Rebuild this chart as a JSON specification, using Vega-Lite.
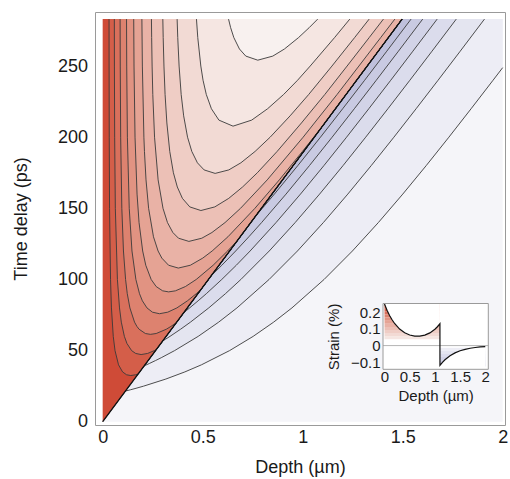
{
  "$schema": "https://vega.github.io/schema/vega-lite/v6.json",
  "width": 410,
  "height": 413,
  "autosize": {"type": "none"},
  "padding": {"left": 95, "top": 12, "right": 5, "bottom": 54},
  "config": {
    "font": "Liberation Sans",
    "view": {"stroke": "#9a9a9a", "strokeWidth": 1},
    "axis": {"grid": false, "domain": false, "ticks": false, "tickSize": 0, "labelColor": "#1a1a1a", "titleColor": "#1a1a1a", "titleFontWeight": "normal", "labelFlush": false, "labelOverlap": false, "zindex": 1}
  },
  "datasets": {
    "c": [
      {"g":"p00","d":0,"t":0},{"g":"p00","d":2,"t":0},
      {"g":"p01","d":0.114,"t":21.56},{"g":"p01","d":0.1401,"t":22.5},{"g":"p01","d":0.1666,"t":23.5},{"g":"p01","d":0.2042,"t":25},{"g":"p01","d":0.3157,"t":30},{"g":"p01","d":0.4107,"t":35},{"g":"p01","d":0.4937,"t":40},{"g":"p01","d":0.6345,"t":50},{"g":"p01","d":0.7524,"t":60},{"g":"p01","d":0.8547,"t":70},{"g":"p01","d":0.9462,"t":80},{"g":"p01","d":1.1069,"t":100},{"g":"p01","d":1.2486,"t":120},{"g":"p01","d":1.3783,"t":140},{"g":"p01","d":1.5004,"t":160},{"g":"p01","d":1.6174,"t":180},{"g":"p01","d":1.7309,"t":200},{"g":"p01","d":1.842,"t":220},{"g":"p01","d":1.9516,"t":240},{"g":"p01","d":2.0,"t":248.9},
      {"g":"p02","d":0.208,"t":39.31},{"g":"p02","d":0.2343,"t":41},{"g":"p02","d":0.2641,"t":43},{"g":"p02","d":0.2928,"t":45},{"g":"p02","d":0.3596,"t":50},{"g":"p02","d":0.4775,"t":60},{"g":"p02","d":0.5798,"t":70},{"g":"p02","d":0.6713,"t":80},{"g":"p02","d":0.832,"t":100},{"g":"p02","d":0.9737,"t":120},{"g":"p02","d":1.1034,"t":140},{"g":"p02","d":1.2255,"t":160},{"g":"p02","d":1.3425,"t":180},{"g":"p02","d":1.456,"t":200},{"g":"p02","d":1.5671,"t":220},{"g":"p02","d":1.6767,"t":240},{"g":"p02","d":1.7852,"t":260},{"g":"p02","d":1.9089,"t":283},
      {"g":"p03","d":0.3003,"t":56.76},{"g":"p03","d":0.3143,"t":58},{"g":"p03","d":0.3365,"t":60},{"g":"p03","d":0.3892,"t":65},{"g":"p03","d":0.4388,"t":70},{"g":"p03","d":0.5303,"t":80},{"g":"p03","d":0.6137,"t":90},{"g":"p03","d":0.691,"t":100},{"g":"p03","d":0.8327,"t":120},{"g":"p03","d":0.9624,"t":140},{"g":"p03","d":1.0845,"t":160},{"g":"p03","d":1.2015,"t":180},{"g":"p03","d":1.315,"t":200},{"g":"p03","d":1.4261,"t":220},{"g":"p03","d":1.5357,"t":240},{"g":"p03","d":1.6441,"t":260},{"g":"p03","d":1.7679,"t":283},
      {"g":"p04","d":0.406,"t":76.75},{"g":"p04","d":0.4171,"t":78},{"g":"p04","d":0.4347,"t":80},{"g":"p04","d":0.4772,"t":85},{"g":"p04","d":0.5181,"t":90},{"g":"p04","d":0.5954,"t":100},{"g":"p04","d":0.6681,"t":110},{"g":"p04","d":0.7371,"t":120},{"g":"p04","d":0.8668,"t":140},{"g":"p04","d":0.9889,"t":160},{"g":"p04","d":1.1059,"t":180},{"g":"p04","d":1.2194,"t":200},{"g":"p04","d":1.3305,"t":220},{"g":"p04","d":1.4401,"t":240},{"g":"p04","d":1.5485,"t":260},{"g":"p04","d":1.6723,"t":283},
      {"g":"p05","d":0.5436,"t":102.76},{"g":"p05","d":0.56,"t":105},{"g":"p05","d":0.5958,"t":110},{"g":"p05","d":0.6648,"t":120},{"g":"p05","d":0.7308,"t":130},{"g":"p05","d":0.7945,"t":140},{"g":"p05","d":0.9166,"t":160},{"g":"p05","d":1.0336,"t":180},{"g":"p05","d":1.1471,"t":200},{"g":"p05","d":1.2582,"t":220},{"g":"p05","d":1.3678,"t":240},{"g":"p05","d":1.4762,"t":260},{"g":"p05","d":1.6,"t":283},
      {"g":"p06","d":0.7652,"t":144.64},{"g":"p06","d":0.7797,"t":147},{"g":"p06","d":0.7981,"t":150},{"g":"p06","d":0.8584,"t":160},{"g":"p06","d":0.9754,"t":180},{"g":"p06","d":1.0889,"t":200},{"g":"p06","d":1.2,"t":220},{"g":"p06","d":1.3096,"t":240},{"g":"p06","d":1.418,"t":260},{"g":"p06","d":1.5418,"t":283},
      {"g":"p07","d":0,"t":0},{"g":"p07","d":1.497,"t":283},
      {"g":"p08","d":0.0318,"t":283},{"g":"p08","d":0.032,"t":250},{"g":"p08","d":0.0327,"t":200},{"g":"p08","d":0.0343,"t":150},{"g":"p08","d":0.0392,"t":100},{"g":"p08","d":0.0438,"t":80},{"g":"p08","d":0.0528,"t":60},{"g":"p08","d":0.0616,"t":50},{"g":"p08","d":0.0791,"t":40},{"g":"p08","d":0.0994,"t":35},{"g":"p08","d":0.1194,"t":33},{"g":"p08","d":0.1401,"t":32.47},{"g":"p08","d":0.1648,"t":33},{"g":"p08","d":0.1778,"t":33.62},{"g":"p08","d":1.497,"t":283},
      {"g":"p09","d":0.0582,"t":283},{"g":"p09","d":0.0586,"t":250},{"g":"p09","d":0.0599,"t":200},{"g":"p09","d":0.0632,"t":150},{"g":"p09","d":0.0736,"t":100},{"g":"p09","d":0.084,"t":80},{"g":"p09","d":0.0931,"t":70},{"g":"p09","d":0.1083,"t":60},{"g":"p09","d":0.1212,"t":55},{"g":"p09","d":0.1445,"t":50},{"g":"p09","d":0.1648,"t":48},{"g":"p09","d":0.1921,"t":47.22},{"g":"p09","d":0.2246,"t":48},{"g":"p09","d":0.2583,"t":50},{"g":"p09","d":0.2687,"t":50.79},{"g":"p09","d":1.497,"t":283},
      {"g":"p10","d":0.0871,"t":283},{"g":"p10","d":0.0878,"t":250},{"g":"p10","d":0.0899,"t":200},{"g":"p10","d":0.0957,"t":150},{"g":"p10","d":0.1038,"t":120},{"g":"p10","d":0.1144,"t":100},{"g":"p10","d":0.1229,"t":90},{"g":"p10","d":0.136,"t":80},{"g":"p10","d":0.1592,"t":70},{"g":"p10","d":0.1711,"t":67},{"g":"p10","d":0.1821,"t":65},{"g":"p10","d":0.2134,"t":62},{"g":"p10","d":0.2386,"t":61.42},{"g":"p10","d":0.2675,"t":62},{"g":"p10","d":0.3177,"t":65},{"g":"p10","d":0.3413,"t":67},{"g":"p10","d":0.3684,"t":69.64},{"g":"p10","d":1.497,"t":283},
      {"g":"p11","d":0.1192,"t":283},{"g":"p11","d":0.1201,"t":250},{"g":"p11","d":0.1235,"t":200},{"g":"p11","d":0.1327,"t":150},{"g":"p11","d":0.1464,"t":120},{"g":"p11","d":0.1659,"t":100},{"g":"p11","d":0.184,"t":90},{"g":"p11","d":0.1983,"t":85},{"g":"p11","d":0.2213,"t":80},{"g":"p11","d":0.2488,"t":77},{"g":"p11","d":0.2837,"t":75.92},{"g":"p11","d":0.3252,"t":77},{"g":"p11","d":0.3708,"t":80},{"g":"p11","d":0.4237,"t":85},{"g":"p11","d":0.4678,"t":90},{"g":"p11","d":0.4923,"t":93.07},{"g":"p11","d":1.497,"t":283},
      {"g":"p12","d":0.1551,"t":283},{"g":"p12","d":0.1566,"t":250},{"g":"p12","d":0.1617,"t":200},{"g":"p12","d":0.1718,"t":160},{"g":"p12","d":0.1818,"t":140},{"g":"p12","d":0.1999,"t":120},{"g":"p12","d":0.2154,"t":110},{"g":"p12","d":0.2423,"t":100},{"g":"p12","d":0.2675,"t":95},{"g":"p12","d":0.2998,"t":92},{"g":"p12","d":0.3296,"t":91.27},{"g":"p12","d":0.3636,"t":92},{"g":"p12","d":0.4134,"t":95},{"g":"p12","d":0.4677,"t":100},{"g":"p12","d":0.5522,"t":110},{"g":"p12","d":0.6243,"t":120},{"g":"p12","d":0.6579,"t":125},{"g":"p12","d":0.6745,"t":127.5},{"g":"p12","d":1.497,"t":283},
      {"g":"p13","d":0.196,"t":283},{"g":"p13","d":0.1983,"t":250},{"g":"p13","d":0.206,"t":200},{"g":"p13","d":0.2088,"t":190},{"g":"p13","d":0.2166,"t":170},{"g":"p13","d":0.2296,"t":150},{"g":"p13","d":0.2539,"t":130},{"g":"p13","d":0.2769,"t":120},{"g":"p13","d":0.2957,"t":115},{"g":"p13","d":0.3294,"t":110},{"g":"p13","d":0.3781,"t":108.01},{"g":"p13","d":0.4382,"t":110},{"g":"p13","d":0.5002,"t":115},{"g":"p13","d":0.5472,"t":120},{"g":"p13","d":0.6262,"t":130},{"g":"p13","d":0.761,"t":150},{"g":"p13","d":0.8831,"t":170},{"g":"p13","d":0.9987,"t":190},{"g":"p13","d":1.0555,"t":200},{"g":"p13","d":1.103,"t":208.5},{"g":"p13","d":1.497,"t":283},
      {"g":"p14","d":0.2437,"t":283},{"g":"p14","d":0.2448,"t":270},{"g":"p14","d":0.2471,"t":250},{"g":"p14","d":0.2505,"t":230},{"g":"p14","d":0.2593,"t":200},{"g":"p14","d":0.2771,"t":170},{"g":"p14","d":0.3015,"t":150},{"g":"p14","d":0.3239,"t":140},{"g":"p14","d":0.3507,"t":133},{"g":"p14","d":0.379,"t":129},{"g":"p14","d":0.431,"t":126.76},{"g":"p14","d":0.4955,"t":129},{"g":"p14","d":0.5462,"t":133},{"g":"p14","d":0.6117,"t":140},{"g":"p14","d":0.6891,"t":150},{"g":"p14","d":0.8226,"t":170},{"g":"p14","d":1.0022,"t":200},{"g":"p14","d":1.1718,"t":230},{"g":"p14","d":1.281,"t":250},{"g":"p14","d":1.39,"t":270},{"g":"p14","d":1.4607,"t":283},
      {"g":"p15","d":0.3007,"t":283},{"g":"p15","d":0.3025,"t":270},{"g":"p15","d":0.3063,"t":250},{"g":"p15","d":0.3119,"t":230},{"g":"p15","d":0.3208,"t":210},{"g":"p15","d":0.3353,"t":190},{"g":"p15","d":0.3535,"t":175},{"g":"p15","d":0.3731,"t":165},{"g":"p15","d":0.3986,"t":157},{"g":"p15","d":0.4355,"t":151},{"g":"p15","d":0.491,"t":148.46},{"g":"p15","d":0.5605,"t":151},{"g":"p15","d":0.6302,"t":157},{"g":"p15","d":0.6993,"t":165},{"g":"p15","d":0.7732,"t":175},{"g":"p15","d":0.8722,"t":190},{"g":"p15","d":0.9937,"t":210},{"g":"p15","d":1.1105,"t":230},{"g":"p15","d":1.2219,"t":250},{"g":"p15","d":1.3324,"t":270},{"g":"p15","d":1.4036,"t":283},
      {"g":"p16","d":0.3722,"t":283},{"g":"p16","d":0.3753,"t":270},{"g":"p16","d":0.382,"t":250},{"g":"p16","d":0.3924,"t":230},{"g":"p16","d":0.4048,"t":215},{"g":"p16","d":0.4243,"t":200},{"g":"p16","d":0.4455,"t":190},{"g":"p16","d":0.4736,"t":182},{"g":"p16","d":0.507,"t":177},{"g":"p16","d":0.5622,"t":174.55},{"g":"p16","d":0.6305,"t":177},{"g":"p16","d":0.691,"t":182},{"g":"p16","d":0.762,"t":190},{"g":"p16","d":0.8372,"t":200},{"g":"p16","d":0.937,"t":215},{"g":"p16","d":1.0299,"t":230},{"g":"p16","d":1.1462,"t":250},{"g":"p16","d":1.2595,"t":270},{"g":"p16","d":1.3322,"t":283},
      {"g":"p17","d":0.4689,"t":283},{"g":"p17","d":0.4754,"t":270},{"g":"p17","d":0.4906,"t":250},{"g":"p17","d":0.5018,"t":240},{"g":"p17","d":0.518,"t":230},{"g":"p17","d":0.5436,"t":220},{"g":"p17","d":0.581,"t":212},{"g":"p17","d":0.6516,"t":207.77},{"g":"p17","d":0.7448,"t":212},{"g":"p17","d":0.8245,"t":220},{"g":"p17","d":0.9044,"t":230},{"g":"p17","d":0.9741,"t":240},{"g":"p17","d":1.0375,"t":250},{"g":"p17","d":1.1593,"t":270},{"g":"p17","d":1.2354,"t":283},
      {"g":"p18","d":0.6293,"t":283},{"g":"p18","d":0.6397,"t":277},{"g":"p18","d":0.6557,"t":270},{"g":"p18","d":0.6837,"t":262},{"g":"p18","d":0.7155,"t":257},{"g":"p18","d":0.7754,"t":254.13},{"g":"p18","d":0.8504,"t":257},{"g":"p18","d":0.9087,"t":262},{"g":"p18","d":0.9791,"t":270},{"g":"p18","d":1.0324,"t":277},{"g":"p18","d":1.0749,"t":283}
    ],
    "tx": [{"d":0},{"d":0.1},{"d":0.2},{"d":0.3},{"d":0.4},{"d":0.5},{"d":0.6},{"d":0.7},{"d":0.8},{"d":0.9},{"d":1},{"d":1.1},{"d":1.2},{"d":1.3},{"d":1.4},{"d":1.5},{"d":1.6},{"d":1.7},{"d":1.8},{"d":1.9},{"d":2}],
    "ty": [{"t":0},{"t":10},{"t":20},{"t":30},{"t":40},{"t":50},{"t":60},{"t":70},{"t":80},{"t":90},{"t":100},{"t":110},{"t":120},{"t":130},{"t":140},{"t":150},{"t":160},{"t":170},{"t":180},{"t":190},{"t":200},{"t":210},{"t":220},{"t":230},{"t":240},{"t":250},{"t":260},{"t":270},{"t":280}],
    "ic": [
      {"d":0,"s":0.25},{"d":0.05,"s":0.2127},{"d":0.1,"s":0.1813},{"d":0.15,"s":0.155},{"d":0.2,"s":0.1329},{"d":0.3,"s":0.0995},{"d":0.4,"s":0.0772},{"d":0.5,"s":0.0635},{"d":0.6,"s":0.057},{"d":0.7,"s":0.0569},{"d":0.8,"s":0.0631},{"d":0.9,"s":0.0765},{"d":1.0,"s":0.0984},{"d":1.05,"s":0.1133},{"d":1.1,"s":0.1313},
      {"d":1.1005,"s":-0.1187},{"d":1.15,"s":-0.1005},{"d":1.2,"s":-0.085},{"d":1.3,"s":-0.0609},{"d":1.4,"s":-0.0437},{"d":1.5,"s":-0.0313},{"d":1.6,"s":-0.0224},{"d":1.7,"s":-0.0161},{"d":1.8,"s":-0.0115},{"d":1.9,"s":-0.0082},{"d":2.0,"s":-0.0059}
    ],
    "st": [
      {"g":"p17","d":0,"d2":1.1,"s":0.0375,"s2":0.05625},
      {"g":"p16","d":0,"d2":1.1,"s":0.05625,"s2":0.075},
      {"g":"p15","d":0,"d2":1.1,"s":0.075,"s2":0.09375},
      {"g":"p14","d":0,"d2":1.1,"s":0.09375,"s2":0.1125},
      {"g":"p13","d":0,"d2":1.1,"s":0.1125,"s2":0.13125},
      {"g":"p12","d":0,"d2":1.1,"s":0.13125,"s2":0.15},
      {"g":"p11","d":0,"d2":1.1,"s":0.15,"s2":0.16875},
      {"g":"p10","d":0,"d2":1.1,"s":0.16875,"s2":0.1875},
      {"g":"p09","d":0,"d2":1.1,"s":0.1875,"s2":0.20625},
      {"g":"p08","d":0,"d2":1.1,"s":0.20625,"s2":0.225},
      {"g":"p07","d":0,"d2":1.1,"s":0.225,"s2":0.25},
      {"g":"p01","d":1.1,"d2":2.0,"s":-0.03125,"s2":-0.0125},
      {"g":"p02","d":1.1,"d2":2.0,"s":-0.05,"s2":-0.03125},
      {"g":"p03","d":1.1,"d2":2.0,"s":-0.06875,"s2":-0.05},
      {"g":"p04","d":1.1,"d2":2.0,"s":-0.0875,"s2":-0.06875},
      {"g":"p05","d":1.1,"d2":2.0,"s":-0.10625,"s2":-0.0875},
      {"g":"p06","d":1.1,"d2":2.0,"s":-0.125,"s2":-0.10625}
    ],
    "fr": [{"d":-0.03,"d2":2.06,"s":-0.1425,"s2":0.253,"z":0}]
  },
  "layer": [
    {
      "data": {"name": "c"},
      "encoding": {
        "x": {"field": "d", "type": "quantitative", "axis": null,
          "scale": {"domain": [-0.0385, 2.0115], "nice": false, "zero": false}},
        "y": {"field": "t", "type": "quantitative", "stack": null, "axis": null,
          "scale": {"domain": [-2.3, 288], "nice": false, "zero": false}}
      },
      "layer": [
        {"mark": {"type": "area", "interpolate": "linear"},
         "encoding": {
           "x": {"field": "d", "type": "quantitative",
             "scale": {"domain": [-0.0385, 2.0115], "nice": false, "zero": false},
             "axis": {"title": "Depth (µm)", "orient": "bottom", "values": [0,0.5,1,1.5,2], "format": "~g", "labelPadding": 3.5, "labelFontSize": 18, "titleFontSize": 18, "titleY": 42, "titleBaseline": "middle"}},
           "y": {"field": "t", "type": "quantitative", "stack": null,
             "scale": {"domain": [-2.3, 288], "nice": false, "zero": false},
             "axis": {"title": "Time delay (ps)", "orient": "left", "values": [0,50,100,150,200,250], "labelPadding": 7.5, "labelFontSize": 18, "titleFontSize": 18, "titleX": -74, "titleY": 206.5, "titleBaseline": "middle"}},
           "y2": {"datum": 283},
           "color": {"field": "g", "type": "nominal", "legend": null,
             "scale": {"domain": ["p00","p01","p02","p03","p04","p05","p06","p07","p08","p09","p10","p11","p12","p13","p14","p15","p16","p17","p18"],
               "range": ["#f5f5f9","#ededf5","#e4e5f0","#dbdcec","#d2d3e7","#c9cae2","#bfc0dc","#cf4b37","#d45e49","#d9705c","#dd826f","#e19382","#e5a394","#e9b2a6","#ecc0b6","#efcdc5","#f2dad4","#f5e6e2","#f8f1ef"]}},
           "detail": {"field": "g"}
         }},
        {"transform": [{"filter": "datum.g !== 'p00'"}],
         "mark": {"type": "line", "stroke": "#3a3a3a", "strokeWidth": 0.9},
         "encoding": {"detail": {"field": "g"}}},
        {"transform": [{"filter": "datum.g === 'p07'"}],
         "mark": {"type": "line", "stroke": "#111111", "strokeWidth": 1.3},
         "encoding": {}},
        {"data": {"name": "tx"},
         "mark": {"type": "rule", "stroke": "#808080", "strokeWidth": 1},
         "encoding": {"y": {"datum": -2.3, "axis": null}, "y2": {"datum": 0.6}}},
        {"data": {"name": "tx"},
         "mark": {"type": "rule", "stroke": "#808080", "strokeWidth": 1},
         "encoding": {"y": {"datum": 288, "axis": null}, "y2": {"datum": 285.1}}},
        {"data": {"name": "ty"},
         "mark": {"type": "rule", "stroke": "#808080", "strokeWidth": 1},
         "encoding": {"x": {"datum": -0.0385, "axis": null}, "x2": {"datum": -0.0185}}},
        {"data": {"name": "ty"},
         "mark": {"type": "rule", "stroke": "#808080", "strokeWidth": 1},
         "encoding": {"x": {"datum": 2.0115, "axis": null}, "x2": {"datum": 1.9915}}}
      ],
      "resolve": {"axis": {"x": "independent", "y": "independent"}}
    },
    {
      "encoding": {
        "x": {"field": "d", "type": "quantitative",
          "scale": {"domain": [-0.03, 2.06], "range": [288, 393.3], "nice": false, "zero": false},
          "axis": {"title": "Depth (µm)", "orient": "bottom", "zindex": 2, "offset": -55.7, "values": [0,0.5,1,1.5,2], "format": "~g", "labelPadding": 0.5, "labelFontSize": 15, "titleFontSize": 15, "titlePadding": 4}},
        "y": {"field": "s", "type": "quantitative",
          "scale": {"domain": [-0.1425, 0.253], "range": [357.3, 291.5], "nice": false, "zero": false},
          "axis": {"title": "Strain (%)", "orient": "left", "zindex": 2, "offset": -288, "values": [-0.1,0,0.1,0.2], "format": "~g", "labelPadding": 3, "labelFontSize": 15, "titleFontSize": 15, "titleX": -49.7, "titleBaseline": "middle"}}
      },
      "layer": [
        {"data": {"name": "fr"},
         "mark": {"type": "rect", "fill": "white"},
         "encoding": {"x2": {"field": "d2"}, "y2": {"field": "s2"}}},
        {"data": {"name": "st"},
         "mark": {"type": "rect"},
         "encoding": {"x2": {"field": "d2"}, "y2": {"field": "s2"},
           "color": {"field": "g", "type": "nominal", "legend": null,
             "scale": {"domain": ["p00","p01","p02","p03","p04","p05","p06","p07","p08","p09","p10","p11","p12","p13","p14","p15","p16","p17","p18"],
               "range": ["#f5f5f9","#ededf5","#e4e5f0","#dbdcec","#d2d3e7","#c9cae2","#bfc0dc","#cf4b37","#d45e49","#d9705c","#dd826f","#e19382","#e5a394","#e9b2a6","#ecc0b6","#efcdc5","#f2dad4","#f5e6e2","#f8f1ef"]}}}},
        {"data": {"name": "ic"}, "transform": [{"filter": "datum.d <= 1.1"}],
         "mark": {"type": "area", "fill": "white"},
         "encoding": {"y2": {"datum": 0.253}}},
        {"data": {"name": "ic"}, "transform": [{"filter": "datum.d >= 1.1005"}],
         "mark": {"type": "area", "fill": "white"},
         "encoding": {"y2": {"datum": -0.1425}}},
        {"data": {"name": "fr"},
         "mark": {"type": "rule", "stroke": "#b5b5b5", "strokeWidth": 1},
         "encoding": {"x2": {"field": "d2"}, "y": {"field": "z", "type": "quantitative"}}},
        {"data": {"name": "ic"},
         "mark": {"type": "line", "stroke": "#111111", "strokeWidth": 1.2},
         "encoding": {}},
        {"data": {"name": "fr"},
         "mark": {"type": "rect", "fillOpacity": 0, "stroke": "#9a9a9a", "strokeWidth": 1},
         "encoding": {"x2": {"field": "d2"}, "y2": {"field": "s2"}}}
      ]
    }
  ],
  "resolve": {"scale": {"x": "independent", "y": "independent"}, "axis": {"x": "independent", "y": "independent"}}
}
